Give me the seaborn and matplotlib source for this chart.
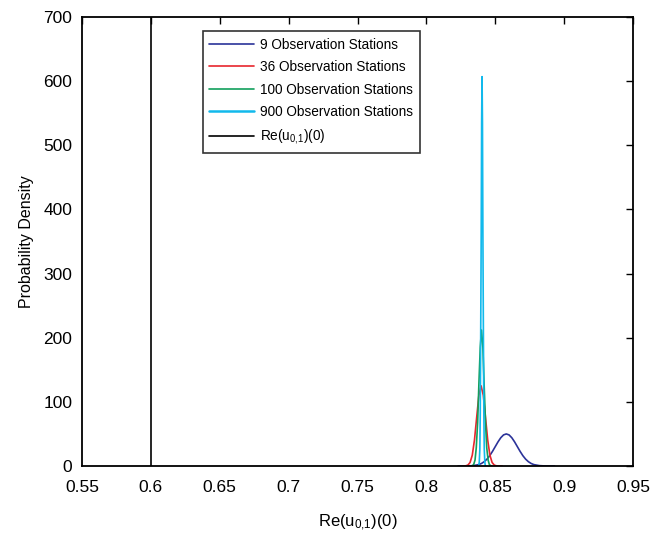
import matplotlib
matplotlib.use("Agg")
import matplotlib.pyplot as plt
import seaborn as sns
import pandas as pd

sns.set_style("white")
plt.rcParams['font.family'] = ['Liberation Sans', 'DejaVu Sans']
plt.rcParams['mathtext.default'] = 'regular'
plt.rcParams['text.color'] = 'black'
plt.rcParams['axes.labelcolor'] = 'black'
plt.rcParams['xtick.color'] = 'black'
plt.rcParams['ytick.color'] = 'black'

labels = ["9 Observation Stations", "36 Observation Stations",
          "100 Observation Stations", "900 Observation Stations",
          "Re(u$_{0{,}1}$)(0)"]
colors = ["#2b3399", "#e8262e", "#12a05c", "#11b9ec", "#000000"]

x9 = [0.823, 0.826, 0.830, 0.834, 0.838, 0.840, 0.842, 0.844, 0.846, 0.848, 0.850,
      0.852, 0.854, 0.856, 0.858, 0.860, 0.862, 0.864, 0.866, 0.868, 0.870,
      0.872, 0.874, 0.876, 0.878, 0.882, 0.886, 0.890, 0.893]
y9 = [0.0, 0.0, 0.1, 0.6, 2.2, 4.0, 6.8, 10.8, 16.2, 22.9, 30.3,
      37.7, 44.1, 48.5, 50.0, 48.5, 44.1, 37.7, 30.3, 22.9, 16.2,
      10.8, 6.8, 4.0, 2.2, 0.6, 0.1, 0.0, 0.0]

x36 = [0.826, 0.8269, 0.8285, 0.8301, 0.8317, 0.8333, 0.8349, 0.8365, 0.8381, 0.8397,
       0.8413, 0.8429, 0.8445, 0.8461, 0.8477, 0.8493, 0.8509, 0.8525, 0.855]
y36 = [0.0, 0.04, 0.3, 1.4, 5.5, 16.9, 40.6, 75.8, 110.3, 125.0,
       110.3, 75.8, 40.6, 16.9, 5.5, 1.4, 0.3, 0.04, 0.0]

x100 = [0.8324, 0.8334, 0.8343, 0.8353, 0.8362, 0.8372, 0.8381, 0.8391, 0.8400,
        0.8410, 0.8419, 0.8429, 0.8438, 0.8448, 0.8457, 0.8467, 0.8476]
y100 = [0.06, 0.5, 2.3, 9.2, 28.4, 68.2, 127.4, 185.3, 212.0,
        185.3, 127.4, 68.2, 28.4, 9.2, 2.3, 0.5, 0.06]

x900 = [0.8378, 0.8381, 0.8384, 0.8388, 0.8391, 0.8394, 0.8398, 0.8401, 0.8404,
        0.8407, 0.8410, 0.8414, 0.8417, 0.8420, 0.8424, 0.8427, 0.8430]
y900 = [0.2, 1.3, 6.7, 26.6, 82.2, 197.1, 368.1, 535.7, 607.0,
        535.7, 368.1, 197.1, 82.2, 26.6, 6.7, 1.3, 0.2]

x_true = [0.6, 0.6]
y_true = [0.0, 700.0]

xticks = [0.55, 0.6, 0.65, 0.7, 0.75, 0.8, 0.85, 0.9, 0.95]
xtick_labels = ["0.55", "0.6", "0.65", "0.7", "0.75", "0.8", "0.85", "0.9", "0.95"]
yticks = [0, 100, 200, 300, 400, 500, 600, 700]

frames = []
for lab, xs, ys in zip(labels, [x9, x36, x100, x900, x_true], [y9, y36, y100, y900, y_true]):
    frames.append(pd.DataFrame({"x": xs, "y": ys, "series": lab, "order": range(len(xs))}))
df = pd.concat(frames, ignore_index=True)

fig = plt.figure(figsize=(6.52, 5.38), dpi=100)
ax = fig.add_axes([0.1258, 0.1338, 0.8451, 0.8346])

sns.lineplot(data=df, x="x", y="y", hue="series", hue_order=labels,
             palette=dict(zip(labels, colors)), sort=False, estimator=None,
             units="series", linewidth=1.2, ax=ax, legend=True)
for line in ax.get_lines():
    if line.get_label() == labels[3]:
        line.set_linewidth(1.8)

ax.set_xlim(0.55, 0.95)
ax.set_ylim(0, 700)
ax.set_xticks(xticks)
ax.set_xticklabels(xtick_labels)
ax.set_yticks(yticks)
ax.tick_params(direction="in", top=True, right=True, labelsize=12.5, length=5, width=1.0)
ax.tick_params(axis="x", pad=10)
ax.tick_params(axis="y", pad=7)
for s in ax.spines.values():
    s.set_visible(True)
    s.set_color("black")
    s.set_linewidth(1.3)
ax.set_xlabel("Re(u$_{0{,}1}$)(0)", fontsize=12, labelpad=13)
ax.set_ylabel("Probability Density", fontsize=11.5, labelpad=7)

handles, hl = ax.get_legend_handles_labels()
leg = ax.legend(handles, hl, loc="upper left", bbox_to_anchor=(0.219, 0.969),
                borderaxespad=0, fontsize=9.8, frameon=True, fancybox=False,
                edgecolor="black", handlelength=3.3, borderpad=0.5,
                labelspacing=0.62, handletextpad=0.4)
leg.get_frame().set_linewidth(1.2)

fig.savefig("out.png", dpi=100)
